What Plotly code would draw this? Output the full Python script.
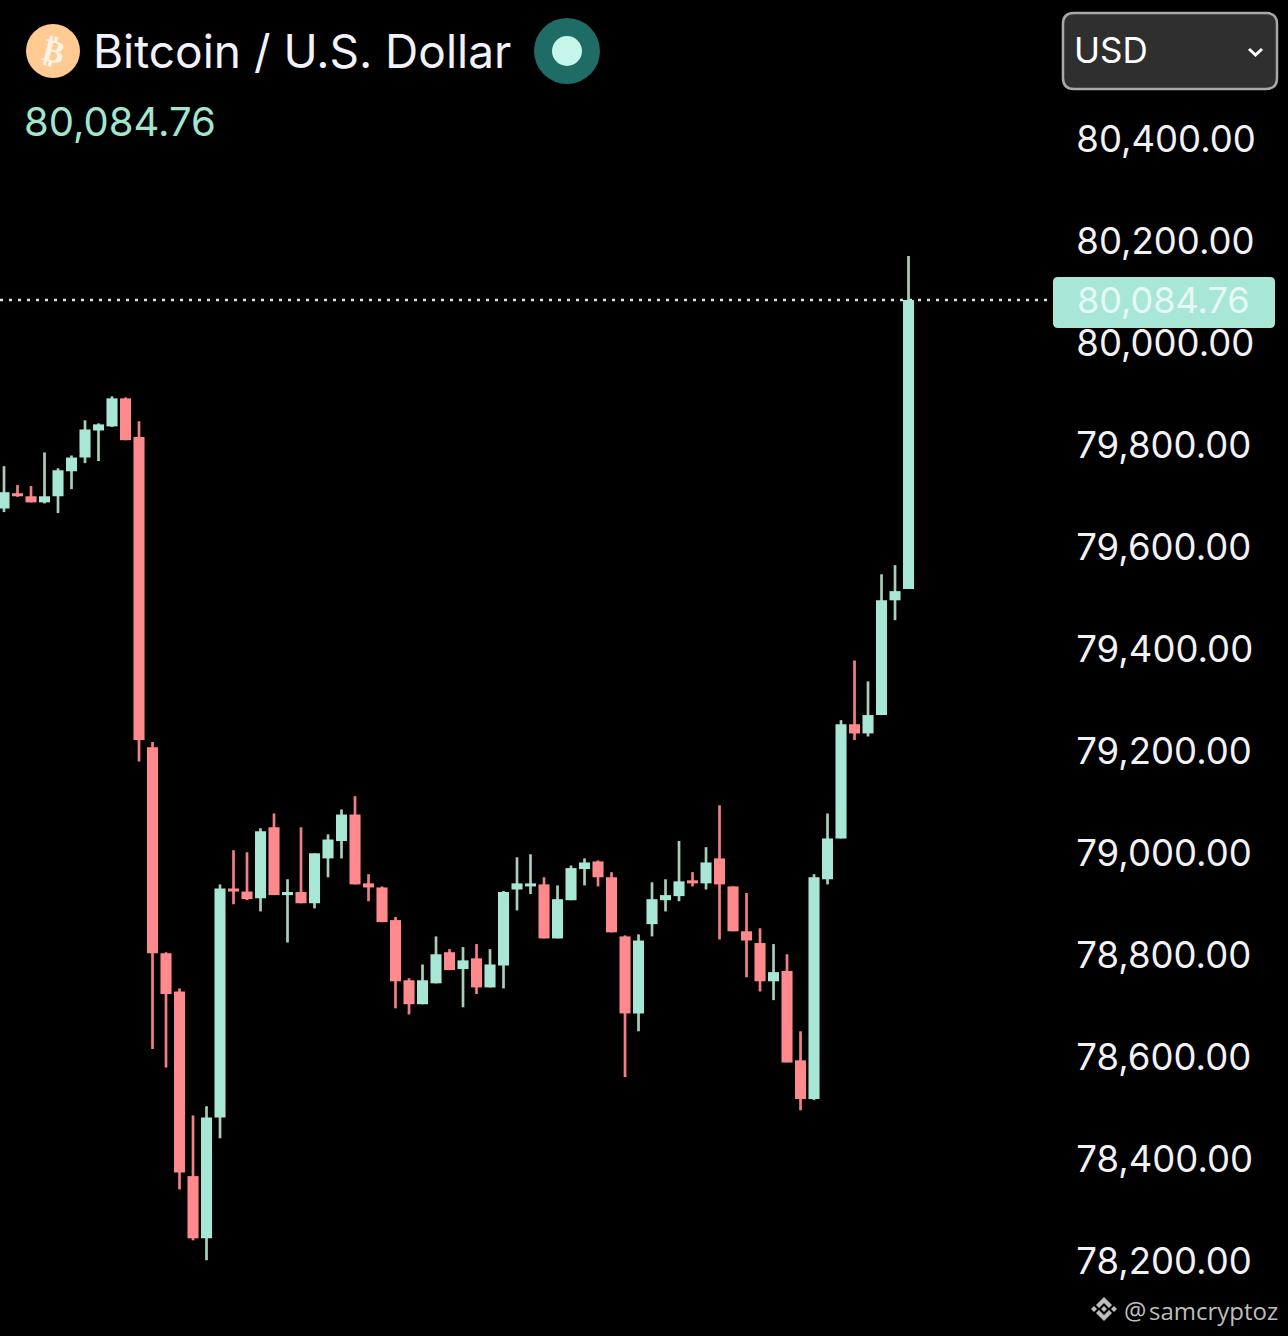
import numpy as np
import plotly.graph_objects as go

# precios, vela por vela
opens = [79676, 79706, 79700, 79688, 79700, 79749, 79776, 79829, 79837, 79892,
         79816, 79208, 78804, 78729, 78367, 78245, 78482, 78931, 78925, 78912,
         79051, 78918, 78924, 78902, 78990, 79024, 79076, 78941, 78933, 78869,
         78751, 78704, 78745, 78806, 78773, 78794, 78737, 78780, 78929, 78935,
         78939, 78833, 78908, 78969, 78984, 78953, 78837, 78686, 78861, 78908,
         78916, 78947, 78941, 78990, 78935, 78847, 78824, 78749, 78769, 78594,
         78518, 78949, 79029, 79253, 79235, 79271, 79496, 79518]
closes = [79708, 79700, 79688, 79700, 79751, 79776, 79831, 79841, 79892, 79810,
          79222, 78804, 78724, 78374, 78245, 78482, 78931, 78925, 78910, 79043,
          78918, 78924, 78902, 79000, 79027, 79076, 78939, 78933, 78865, 78749,
          78704, 78751, 78802, 78771, 78790, 78737, 78782, 78924, 78941, 78941,
          78833, 78910, 78971, 78982, 78953, 78845, 78686, 78829, 78910, 78918,
          78945, 78941, 78982, 78939, 78847, 78829, 78749, 78767, 78590, 78518,
          78953, 79029, 79253, 79235, 79271, 79496, 79514, 80084.76]
highs = [79759, 79722, 79720, 79786, 79755, 79780, 79849, 79843, 79896, 79894,
         79847, 79218, 78806, 78735, 78486, 78504, 78939, 79006, 79002, 79049,
         79078, 78949, 79051, 79000, 79037, 79086, 79112, 78959, 78935, 78875,
         78755, 78782, 78837, 78812, 78816, 78822, 78812, 78926, 78992, 78998,
         78953, 78937, 78976, 78990, 78986, 78963, 78839, 78841, 78943, 78949,
         79024, 78963, 79012, 79094, 78935, 78922, 78853, 78822, 78802, 78651,
         78959, 79078, 79261, 79378, 79337, 79547, 79565, 80171]
lows = [79669, 79699, 79688, 79686, 79667, 79714, 79765, 79769, 79836, 79810,
        79180, 78616, 78580, 78341, 78241, 78202, 78441, 78900, 78908, 78886,
        78918, 78825, 78902, 78892, 78953, 78990, 78939, 78906, 78865, 78696,
        78684, 78704, 78745, 78771, 78698, 78724, 78737, 78735, 78888, 78920,
        78833, 78833, 78908, 78937, 78935, 78845, 78561, 78651, 78837, 78886,
        78906, 78935, 78929, 78831, 78847, 78757, 78729, 78712, 78590, 78496,
        78516, 78939, 79029, 79222, 79229, 79271, 79457, 79518]
tick_values = [78200, 78400, 78600, 78800, 79000, 79200, 79400, 79600, 79800, 80000, 80200, 80400]
last_price = 80084.76

W, H = 1288, 1336
UP, DOWN = '#A8E6D6', '#FF8A8E'
UP_WICK, DOWN_WICK = '#A9CFBB', '#F27F84'


def px_x(x):
    return x / W


def px_y(y):
    return 1 - y / H


def rounded_box(x0, y0, x1, y1, r):
    # rectangulo redondeado en coordenadas de papel
    a, b, c, d = px_x(x0), px_x(x1), px_y(y0), px_y(y1)
    rx, ry = r / W, r / H
    return (f'M {a+rx} {c} L {b-rx} {c} Q {b} {c} {b} {c-ry} L {b} {d+ry} Q {b} {d} {b-rx} {d} '
            f'L {a+rx} {d} Q {a} {d} {a} {d+ry} L {a} {c-ry} Q {a} {c} {a+rx} {c} Z')


def circle(cx, cy, r, color):
    return dict(type='circle', xref='paper', yref='paper', x0=px_x(cx - r), x1=px_x(cx + r),
                y0=px_y(cy + r), y1=px_y(cy - r), fillcolor=color, line_width=0, layer='above')


def poly(points, color):
    path = 'M ' + ' L '.join(f'{px_x(a)} {px_y(b)}' for a, b in points) + ' Z'
    return dict(type='path', xref='paper', yref='paper', path=path, fillcolor=color, line_width=0, layer='above')


def label(x, y, text, size, color, family='Inter', anchor='left', angle=0):
    return dict(xref='paper', yref='paper', x=px_x(x), y=px_y(y), text=text, showarrow=False,
                xanchor=anchor, yanchor='middle', textangle=angle,
                font=dict(family=family, size=size, color=color))


o, c, h, l = map(np.array, (opens, closes, highs, lows))
idx = np.arange(len(o))
rising = c >= o

fig = go.Figure()
fig.add_trace(go.Bar(x=idx, y=h - l, base=l, width=0.2,
                     marker=dict(color=np.where(rising, UP_WICK, DOWN_WICK), line_width=0), hoverinfo='skip'))
fig.add_trace(go.Bar(x=idx, y=np.abs(c - o), base=np.minimum(o, c), width=0.82,
                     marker=dict(color=np.where(rising, UP, DOWN), line_width=0), hoverinfo='skip'))

grey = '#BDBDBD'
shapes = [
    dict(type='line', xref='paper', yref='y', x0=0, x1=px_x(1048), y0=last_price, y1=last_price,
         line=dict(color='#C8F0E4', width=2.5, dash='3px,6px'), layer='below'),
    # etiqueta del ultimo precio
    dict(type='path', xref='paper', yref='paper', path=rounded_box(1053, 277, 1275, 328, 5),
         fillcolor='#A8E6D6', line_width=0, layer='above'),
    # selector de moneda
    dict(type='path', xref='paper', yref='paper', path=rounded_box(1063, 13, 1277, 89, 11),
         fillcolor='#2F2F2F', line=dict(color='#A8A8A8', width=2.5), layer='above'),
    dict(type='path', xref='paper', yref='paper',
         path=f'M {px_x(1249)} {px_y(49)} L {px_x(1255.5)} {px_y(55)} L {px_x(1262)} {px_y(49)}',
         line=dict(color='white', width=3), layer='above'),
    circle(53, 51, 27, '#FFCB92'),
    circle(567, 51, 33, '#1F6B66'),
    circle(567, 51, 15, '#C6F5EA'),
    # logo de la marca de agua
    poly([(1104, 1297), (1112, 1305), (1109, 1308), (1104, 1303), (1099, 1308), (1096, 1305)], grey),
    poly([(1104, 1321), (1112, 1313), (1109, 1310), (1104, 1315), (1099, 1310), (1096, 1313)], grey),
    poly([(1104, 1306), (1107, 1309), (1104, 1312), (1101, 1309)], grey),
    poly([(1094, 1306), (1097, 1309), (1094, 1312), (1091, 1309)], grey),
    poly([(1114, 1306), (1117, 1309), (1114, 1312), (1111, 1309)], grey),
]

annotations = [
    label(53, 51, '<b>₿</b>', 32, '#FFF3E6', family='DejaVu Sans', anchor='center', angle=14),
    label(91, 51, 'Bitcoin / U.S. Dollar', 46, '#F2F2FA'),
    label(22, 121, '80,084.76', 40, '#A3E6CF'),
    label(1072, 50, 'USD', 35, '#FFFFFF'),
    label(1075, 300, '80,084.76', 36, '#E6FAF5'),
    label(1122, 1310, '@', 25, grey, family='Open Sans'),
    label(1147, 1310, 'samcryptoz', 24, grey, family='Open Sans'),
]

fig.update_layout(
    width=W, height=H,
    margin=dict(l=0, r=0, t=0, b=0),
    paper_bgcolor='black', plot_bgcolor='black',
    barmode='overlay', showlegend=False,
    shapes=shapes, annotations=annotations,
    xaxis=dict(visible=False, domain=[0, 1050 / W], range=[-0.297, 77.48]),
    yaxis=dict(side='right', range=[78053.5, 80673.1], tickvals=tick_values, tickformat=',.2f',
               showgrid=False, zeroline=False, showline=False, ticks='outside', ticklen=18,
               tickcolor='black', tickfont=dict(family='Inter', size=36.5, color='#F2F2F5')),
)

fig.write_html('out.html', config=dict(displayModeBar=False),
               post_script="document.body.style.margin='0';document.body.style.background='#000';")
